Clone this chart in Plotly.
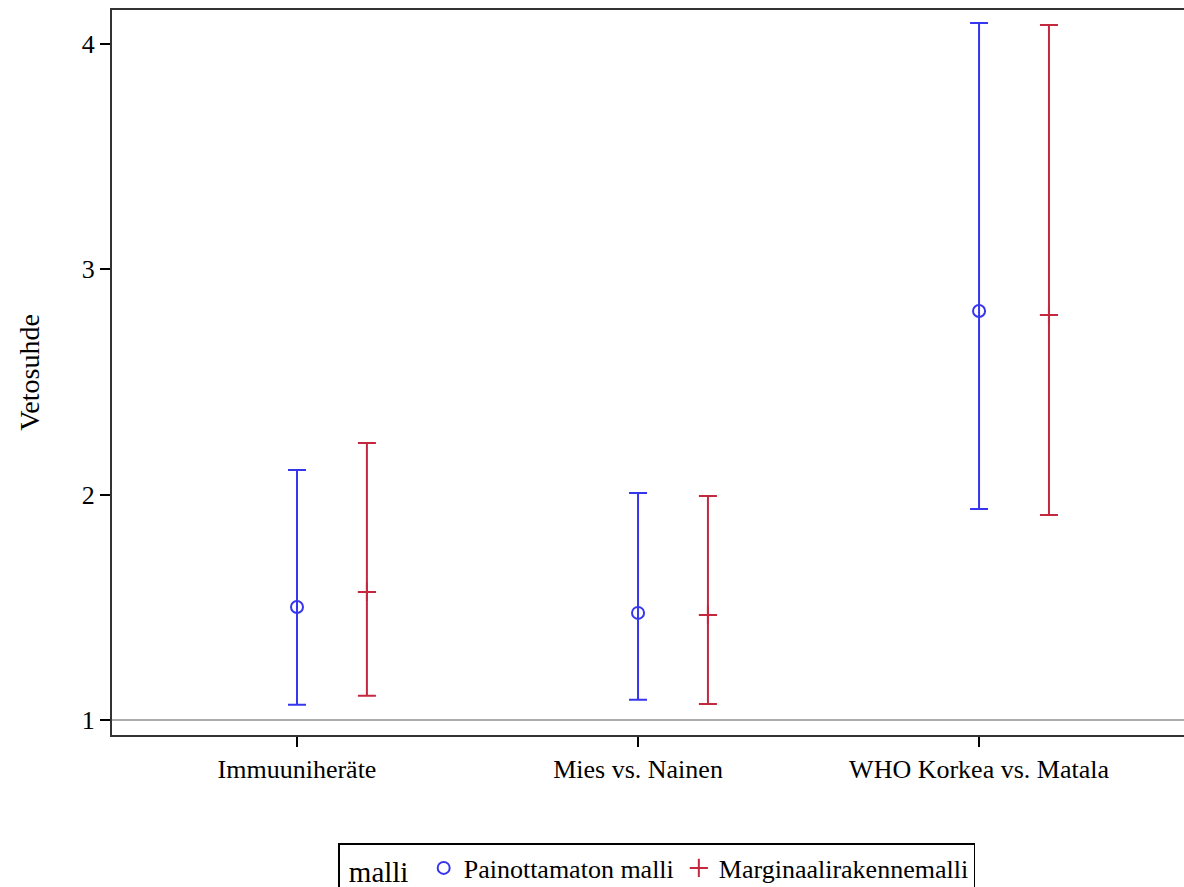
import plotly.graph_objects as go

categories = ["Immuuniheräte", "Mies vs. Nainen", "WHO Korkea vs. Matala"]
series_names = ["Painottamaton malli", "Marginaalirakennemalli"]
or_unweighted = [1.501, 1.475, 2.815]
lo_unweighted = [1.067, 1.089, 1.936]
hi_unweighted = [2.109, 2.007, 4.093]
or_marginal = [1.568, 1.466, 2.797]
lo_marginal = [1.107, 1.071, 1.910]
hi_marginal = [2.229, 1.994, 4.084]
y_ticks = [1, 2, 3, 4]

FONT = "'Times New Roman', 'Liberation Serif', Times, serif"
BLUE = "#3636EE"
RED = "#C3283F"

xpos = list(range(len(categories)))
offset = 0.205

fig = go.Figure()
fig.add_trace(go.Scatter(
    x=xpos, y=or_unweighted, mode="markers", name=series_names[0],
    marker=dict(symbol="circle-open", size=12, color=BLUE, line=dict(width=2, color=BLUE)),
    error_y=dict(type="data", symmetric=False,
                 array=[h - v for h, v in zip(hi_unweighted, or_unweighted)],
                 arrayminus=[v - l for v, l in zip(or_unweighted, lo_unweighted)],
                 color=BLUE, thickness=2, width=9),
))
fig.add_trace(go.Scatter(
    x=[p + offset for p in xpos], y=or_marginal, mode="markers", name=series_names[1],
    marker=dict(symbol="cross-thin-open", size=13, color=RED, line=dict(width=2, color=RED)),
    error_y=dict(type="data", symmetric=False,
                 array=[h - v for h, v in zip(hi_marginal, or_marginal)],
                 arrayminus=[v - l for v, l in zip(or_marginal, lo_marginal)],
                 color=RED, thickness=2, width=9),
))

fig.add_shape(type="line", xref="paper", x0=0, x1=1, yref="y", y0=1, y1=1,
              line=dict(color="#909090", width=1.5), layer="below")

fig.update_layout(
    width=1184, height=887,
    margin=dict(l=112, r=0, t=10, b=152),
    paper_bgcolor="white", plot_bgcolor="white",
    font=dict(family=FONT, size=26, color="black"),
    showlegend=True,
    legend=dict(
        orientation="h", xref="paper", x=0.508, xanchor="center",
        yref="container", y=1 - 843 / 887, yanchor="top",
        bordercolor="black", borderwidth=1.5,
        title=dict(text="\u00a0malli\u00a0", font=dict(family=FONT, size=29)),
        font=dict(family=FONT, size=26),
        itemwidth=30,
    ),
    xaxis=dict(
        range=[-0.5425, 2.601], tickmode="array", tickvals=xpos, ticktext=categories,
        showgrid=False, zeroline=False,
        showline=True, linecolor="#333333", linewidth=2, mirror=True,
        ticks="outside", ticklen=10, tickwidth=1.5, tickcolor="black",
        tickfont=dict(family=FONT, size=26),
    ),
    yaxis=dict(
        range=[0.933, 4.151], tickmode="array", tickvals=y_ticks,
        showgrid=False, zeroline=False,
        showline=True, linecolor="#333333", linewidth=2, mirror=False,
        ticks="outside", ticklen=10, tickwidth=1.5, tickcolor="black",
        tickfont=dict(family=FONT, size=26),
        title=dict(text="Vetosuhde", font=dict(family=FONT, size=28), standoff=34),
    ),
)

fig.write_html("out.html")
